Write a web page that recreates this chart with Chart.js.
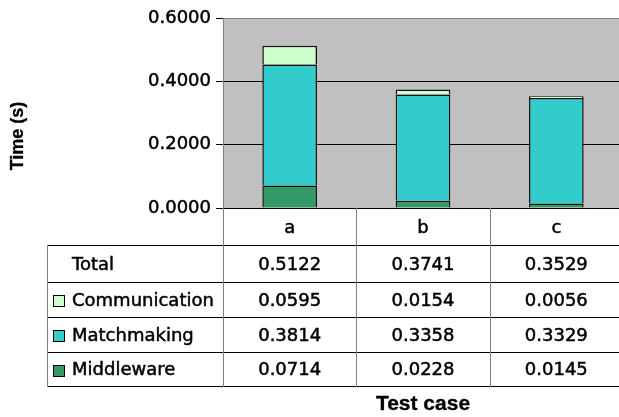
<!DOCTYPE html>
<html>
<head>
<meta charset="utf-8">
<script src="https://cdn.jsdelivr.net/npm/chart.js@4/dist/chart.umd.min.js"></script>
<style>
  html, body { margin: 0; padding: 0; overflow: hidden; background: #fff; }
  #wrap { width: 619px; height: 417px; overflow: hidden; }
  canvas { display: block; }
</style>
</head>
<body>
<div id="wrap"><canvas id="c" width="623" height="417"></canvas></div>
<script>
// Test cases and measured times (seconds)
const testCases = ['a', 'b', 'c'];
const middleware = [0.0714, 0.0228, 0.0145];
const matchmaking = [0.3814, 0.3358, 0.3329];
const communication = [0.0595, 0.0154, 0.0056];
const totals = [0.5122, 0.3741, 0.3529];
const yTicks = { min: 0, max: 0.6, step: 0.2 };

const COLORS = {
  middleware: '#339966',
  matchmaking: '#33CCCC',
  communication: '#CCFFCC',
  plot: '#C0C0C0',
  rule: '#808080'
};
const TEXT_FONT = '18px "DejaVu Sans"';
const TEXT_STROKE = 0.5;

// Grey plotting area behind the bars
const plotBackground = {
  id: 'plotBackground',
  beforeDraw(chart) {
    const { ctx, chartArea: a } = chart;
    ctx.save();
    ctx.fillStyle = COLORS.plot;
    ctx.fillRect(a.left, a.top, a.right - a.left, a.bottom - a.top);
    ctx.restore();
  }
};

// Data table under the x axis, with legend keys and axis titles
const dataTable = {
  id: 'dataTable',
  afterDraw(chart) {
    const { ctx, chartArea: a, scales: { x } } = chart;
    const step = x.getPixelForValue(1) - x.getPixelForValue(0);
    const tableLeft = 47;
    const right = chart.width;
    const rowEdges = [245, 282, 317, 352, 386];
    const rows = [
      { label: 'Total', values: totals, key: null },
      { label: 'Communication', values: communication, key: COLORS.communication },
      { label: 'Matchmaking', values: matchmaking, key: COLORS.matchmaking },
      { label: 'Middleware', values: middleware, key: COLORS.middleware }
    ];
    const line = (x1, y1, x2, y2) => {
      ctx.beginPath(); ctx.moveTo(x1, y1); ctx.lineTo(x2, y2); ctx.stroke();
    };
    const text = (s, tx, ty) => {
      ctx.strokeText(s, tx, ty);
      ctx.fillText(s, tx, ty);
    };

    ctx.save();
    ctx.lineWidth = 1;
    ctx.strokeStyle = '#000';
    rowEdges.forEach(y => line(tableLeft, y + 0.5, right, y + 0.5));

    ctx.strokeStyle = COLORS.rule;
    const bottom = rowEdges[rowEdges.length - 1] + 1;
    line(tableLeft + 0.5, rowEdges[0], tableLeft + 0.5, bottom);
    line(Math.round(a.left) + 0.5, a.bottom, Math.round(a.left) + 0.5, bottom);
    testCases.forEach((_, i) => {
      const bx = Math.round(x.getPixelForValue(i) + step / 2) + 0.5;
      if (bx < right) line(bx, a.bottom, bx, bottom);
    });

    ctx.font = TEXT_FONT;
    ctx.textBaseline = 'middle';
    rows.forEach((row, r) => {
      const cy = (rowEdges[r] + rowEdges[r + 1]) / 2 + 1.5;
      if (row.key) {
        ctx.lineWidth = 1;
        ctx.fillStyle = row.key;
        ctx.fillRect(53, Math.round(cy) - 6, 12, 12);
        ctx.strokeStyle = '#000';
        ctx.strokeRect(53.5, Math.round(cy) - 5.5, 11, 11);
      }
      ctx.fillStyle = '#000';
      ctx.strokeStyle = '#000';
      ctx.lineWidth = TEXT_STROKE;
      ctx.textAlign = 'left';
      text(row.label, 72, cy);
      ctx.textAlign = 'center';
      row.values.forEach((v, i) => text(v.toFixed(4), x.getPixelForValue(i), cy));
    });

    // Axis titles
    ctx.lineWidth = 0.3;
    ctx.font = 'bold 21px "Liberation Sans", Arial, sans-serif';
    ctx.textAlign = 'center';
    text('Test case', (a.left + a.right) / 2, 404);

    ctx.save();
    ctx.translate(18, 136);
    ctx.rotate(-Math.PI / 2);
    ctx.font = 'bold 18px "Liberation Sans", Arial, sans-serif';
    text('Time (s)', 0, 0);
    ctx.restore();

    ctx.restore();
  }
};

Chart.defaults.color = '#000';

new Chart(document.getElementById('c'), {
  type: 'bar',
  data: {
    labels: testCases,
    datasets: [
      { label: 'Middleware', data: middleware, backgroundColor: COLORS.middleware },
      { label: 'Matchmaking', data: matchmaking, backgroundColor: COLORS.matchmaking },
      { label: 'Communication', data: communication, backgroundColor: COLORS.communication }
    ]
  },
  options: {
    responsive: false,
    animation: false,
    devicePixelRatio: 1,
    layout: { padding: { top: 18, left: 0, right: 0, bottom: 0 } },
    datasets: {
      bar: {
        borderColor: '#111',
        borderWidth: 1.5,
        categoryPercentage: 1,
        barPercentage: 0.41
      }
    },
    plugins: {
      legend: { display: false },
      tooltip: { enabled: false }
    },
    scales: {
      x: {
        stacked: true,
        grid: { display: false },
        border: { display: true, color: '#000', width: 1 },
        ticks: {
          font: { family: 'DejaVu Sans', size: 18 },
          padding: 2,
          maxRotation: 0,
          textStrokeColor: '#000',
          textStrokeWidth: TEXT_STROKE
        },
        afterFit(scale) { scale.height = 209; }
      },
      y: {
        stacked: true,
        min: yTicks.min,
        max: yTicks.max,
        grid: {
          color: (c) => (c.tick && Math.abs(c.tick.value - yTicks.max) < 1e-9 ? COLORS.rule : '#000'),
          tickColor: '#000',
          tickLength: 7,
          lineWidth: 1
        },
        border: { display: true, color: COLORS.rule, width: 1 },
        ticks: {
          stepSize: yTicks.step,
          padding: 5,
          font: { family: 'DejaVu Sans', size: 18 },
          textStrokeColor: '#000',
          textStrokeWidth: TEXT_STROKE,
          callback: (v) => Number(v).toFixed(4)
        },
        afterFit(scale) { scale.width = 223; }
      }
    }
  },
  plugins: [plotBackground, dataTable]
});
</script>
</body>
</html>
